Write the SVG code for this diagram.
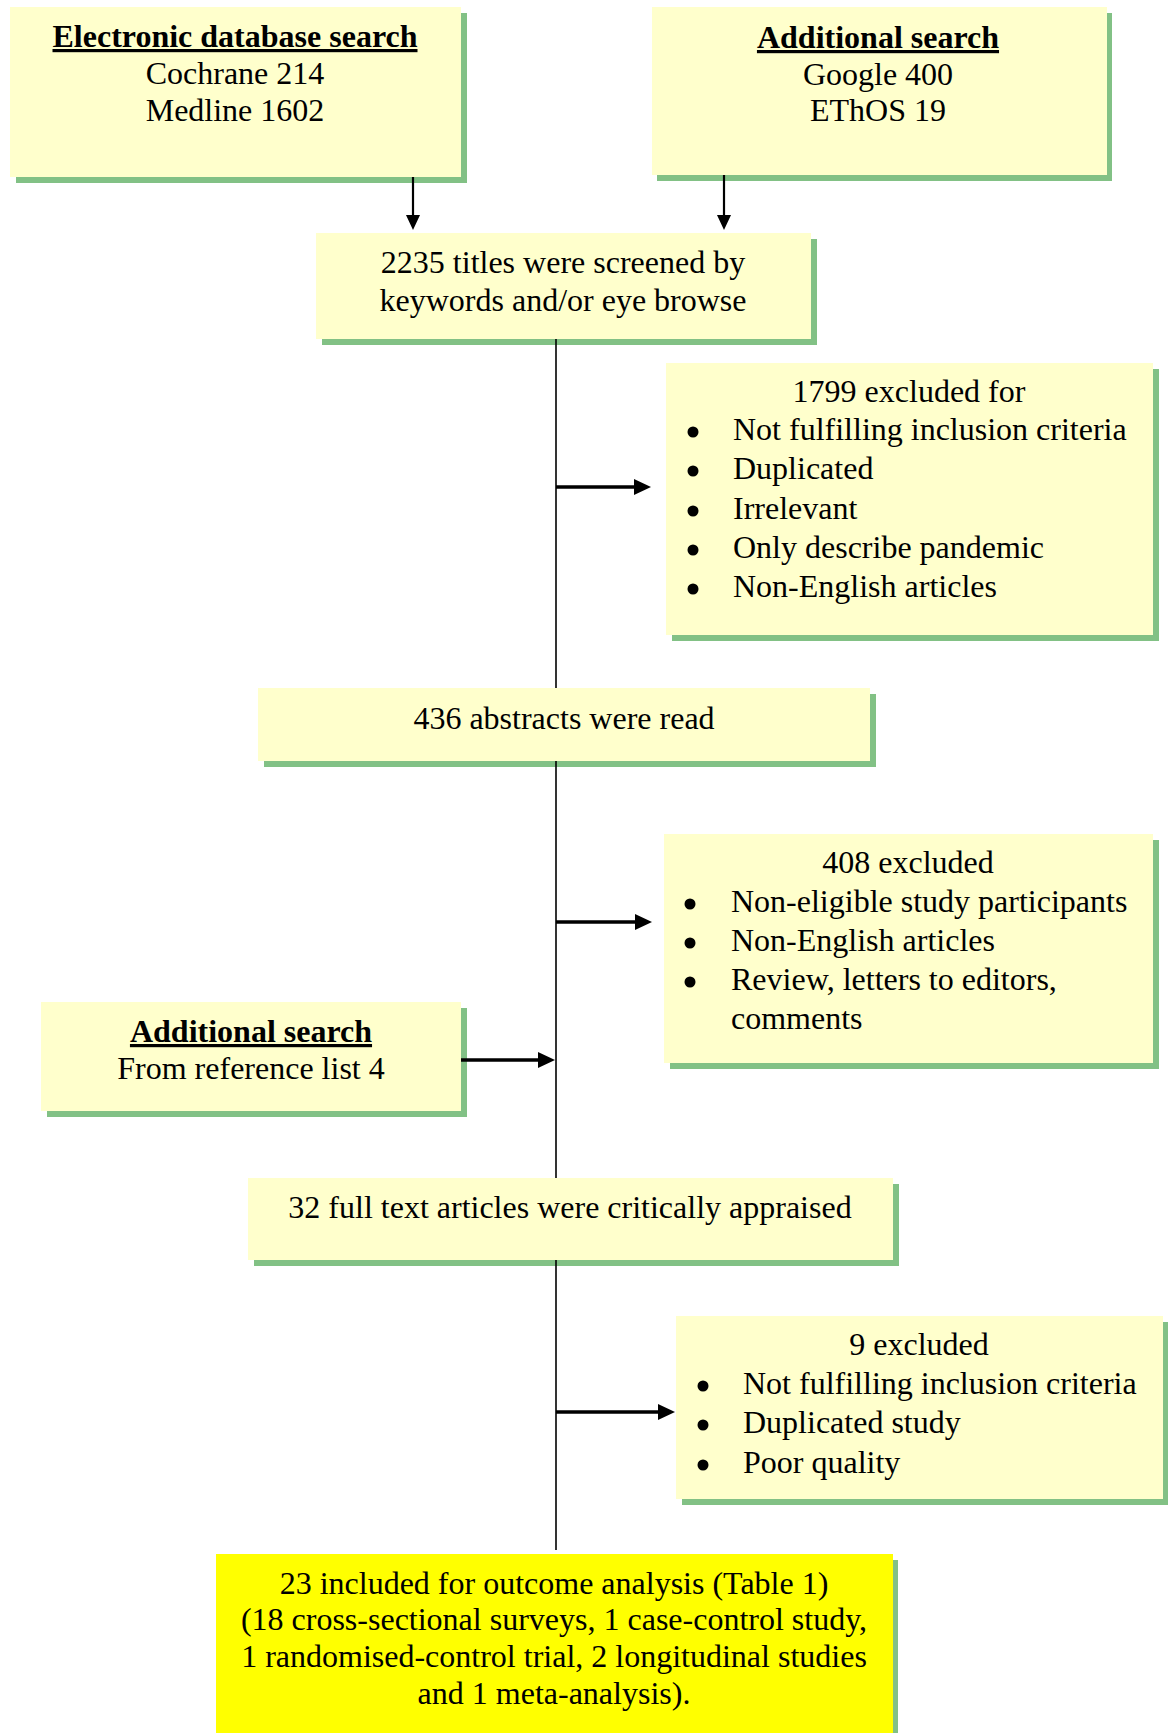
<svg xmlns="http://www.w3.org/2000/svg" width="1168" height="1733" viewBox="0 0 1168 1733">
<style>
.box{fill:#FFFFCC}
.final{fill:#FFFF00}
.sh{fill:#82C185}
text{font-family:"Liberation Serif","Times New Roman",serif;font-size:32px;fill:#000}
.c{text-anchor:middle}
.h{font-weight:bold;text-decoration:underline}
.bul{fill:#000}
.ln{stroke:#000;stroke-width:1.6;fill:none}
.ar{stroke:#000;stroke-width:3.5;fill:none}
.arv{stroke:#000;stroke-width:2.2;fill:none}
</style>
<defs>
<marker id="ah" markerUnits="userSpaceOnUse" markerWidth="18" markerHeight="17" refX="4" refY="8" orient="auto">
<path d="M0,0 L17,8 L0,16 z" fill="#000"/>
</marker>
<marker id="ahv" markerUnits="userSpaceOnUse" markerWidth="16" markerHeight="15" refX="3" refY="7" orient="auto">
<path d="M0,0 L15,7 L0,14 z" fill="#000"/>
</marker>
</defs>
<rect width="1168" height="1733" fill="#fff"/>

<g id="node-electronic">
<rect class="sh" x="16" y="13" width="451" height="170"/>
<rect class="box" x="10" y="7" width="451" height="170"/>
<text class="c h" x="235" y="47">Electronic database search</text>
<text class="c" x="235" y="84">Cochrane 214</text>
<text class="c" x="235" y="121">Medline 1602</text>
</g>

<g id="node-additional-top">
<rect class="sh" x="657" y="13" width="455" height="168"/>
<rect class="box" x="652" y="7" width="455" height="168"/>
<text class="c h" x="878" y="48">Additional search</text>
<text class="c" x="878" y="85">Google 400</text>
<text class="c" x="878" y="121">EThOS 19</text>
</g>

<g id="node-titles">
<rect class="sh" x="322" y="239" width="495" height="106"/>
<rect class="box" x="316" y="233" width="495" height="106"/>
<text class="c" x="563" y="273">2235 titles were screened by</text>
<text class="c" x="563" y="311">keywords and/or eye browse</text>
</g>

<g id="node-excluded-1799">
<rect class="sh" x="672" y="369" width="487" height="272"/>
<rect class="box" x="666" y="363" width="487" height="272"/>
<text class="c" x="909" y="402">1799 excluded for</text>
<circle class="bul" cx="693" cy="432" r="5.5"/>
<circle class="bul" cx="693" cy="471" r="5.5"/>
<circle class="bul" cx="693" cy="511" r="5.5"/>
<circle class="bul" cx="693" cy="550" r="5.5"/>
<circle class="bul" cx="693" cy="589" r="5.5"/>
<text x="733" y="440">Not fulfilling inclusion criteria</text>
<text x="733" y="479">Duplicated</text>
<text x="733" y="519">Irrelevant</text>
<text x="733" y="558">Only describe pandemic</text>
<text x="733" y="597">Non-English articles</text>
</g>

<g id="node-abstracts">
<rect class="sh" x="264" y="694" width="612" height="73"/>
<rect class="box" x="258" y="688" width="612" height="73"/>
<text class="c" x="564" y="729">436 abstracts were read</text>
</g>

<g id="node-excluded-408">
<rect class="sh" x="670" y="840" width="489" height="229"/>
<rect class="box" x="664" y="834" width="489" height="229"/>
<text class="c" x="908" y="873">408 excluded</text>
<circle class="bul" cx="690" cy="904" r="5.5"/>
<circle class="bul" cx="690" cy="943" r="5.5"/>
<circle class="bul" cx="690" cy="982" r="5.5"/>
<text x="731" y="912">Non-eligible study participants</text>
<text x="731" y="951">Non-English articles</text>
<text x="731" y="990">Review, letters to editors,</text>
<text x="731" y="1029">comments</text>
</g>

<g id="node-additional-ref">
<rect class="sh" x="47" y="1008" width="420" height="109"/>
<rect class="box" x="41" y="1002" width="420" height="109"/>
<text class="c h" x="251" y="1042">Additional search</text>
<text class="c" x="251" y="1079">From reference list 4</text>
</g>

<g id="node-fulltext">
<rect class="sh" x="254" y="1184" width="645" height="82"/>
<rect class="box" x="248" y="1178" width="645" height="82"/>
<text class="c" x="570" y="1218">32 full text articles were critically appraised</text>
</g>

<g id="node-excluded-9">
<rect class="sh" x="682" y="1322" width="487" height="183"/>
<rect class="box" x="676" y="1316" width="487" height="183"/>
<text class="c" x="919" y="1355">9 excluded</text>
<circle class="bul" cx="703" cy="1386" r="5.5"/>
<circle class="bul" cx="703" cy="1425" r="5.5"/>
<circle class="bul" cx="703" cy="1465" r="5.5"/>
<text x="743" y="1394">Not fulfilling inclusion criteria</text>
<text x="743" y="1433">Duplicated study</text>
<text x="743" y="1473">Poor quality</text>
</g>

<g id="node-included">
<rect class="sh" x="222" y="1560" width="676" height="180"/>
<rect class="final" x="216" y="1554" width="677" height="180"/>
<text class="c" x="554" y="1594">23 included for outcome analysis (Table 1)</text>
<text class="c" x="554" y="1630">(18 cross-sectional surveys, 1 case-control study,</text>
<text class="c" x="554" y="1667">1 randomised-control trial, 2 longitudinal studies</text>
<text class="c" x="554" y="1704">and 1 meta-analysis).</text>
</g>

<g id="connectors">
<path class="arv" d="M413,177 V218" marker-end="url(#ahv)"/>
<path class="arv" d="M724,175 V218" marker-end="url(#ahv)"/>
<path class="ln" d="M556,339 V688"/>
<path class="ln" d="M556,761 V1178"/>
<path class="ln" d="M556,1260 V1550"/>
<path class="ar" d="M556,487 H638" marker-end="url(#ah)"/>
<path class="ar" d="M556,922 H639" marker-end="url(#ah)"/>
<path class="ar" d="M461,1060 H542" marker-end="url(#ah)"/>
<path class="ar" d="M556,1412 H662" marker-end="url(#ah)"/>
</g>
</svg>
